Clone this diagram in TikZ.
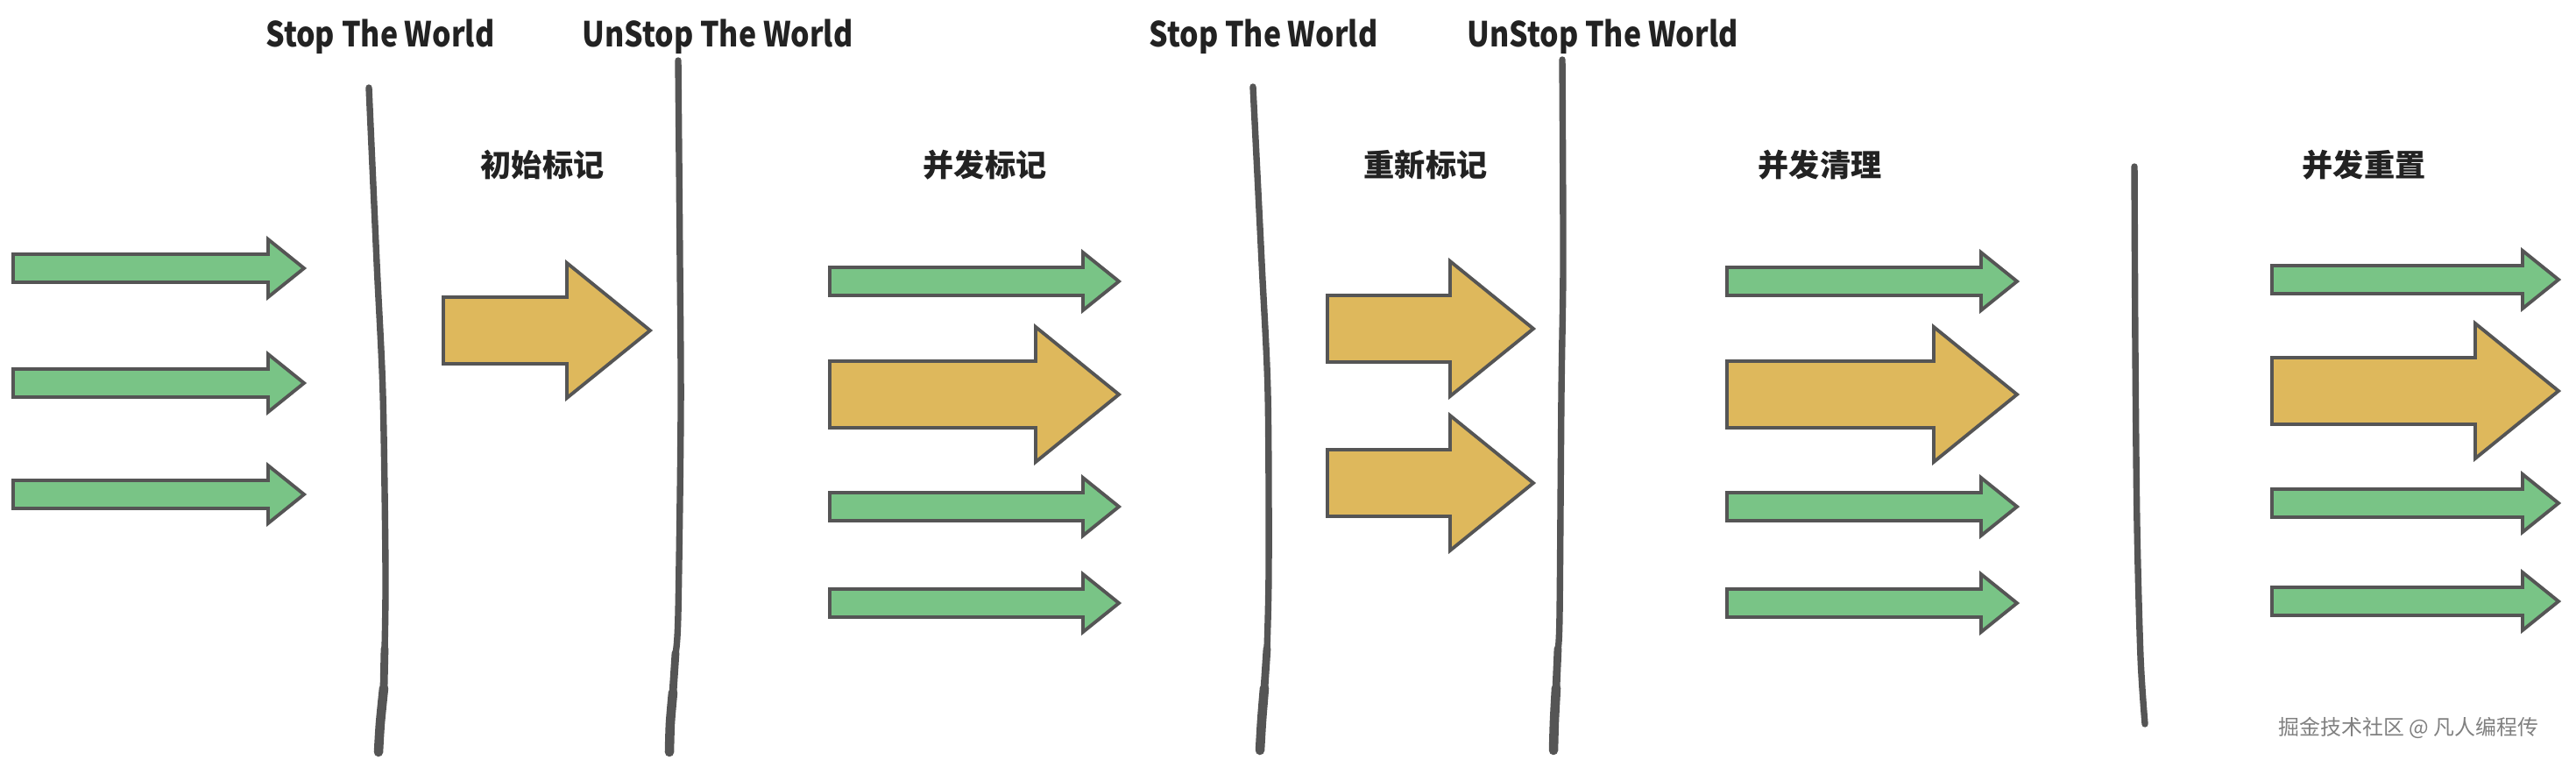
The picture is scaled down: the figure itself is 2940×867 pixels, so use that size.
\documentclass[tikz,border=0pt]{standalone}
\usepackage{fontspec}
\setmainfont{Noto Sans CJK SC}
\newfontfamily\headfont{Noto Sans CJK SC}[FakeStretch=0.86]
\usepackage{tikz}
\definecolor{arrowgreen}{HTML}{79C486}
\definecolor{arrowyellow}{HTML}{DEB85C}
\definecolor{edgegray}{HTML}{555555}
\definecolor{titlegray}{HTML}{222222}

% thin green arrow: left end, tip, centre line
\newcommand{\garrow}[3]{%
  \draw[greenarrow] (#1,#3-16) -- (#2-41,#3-16) -- (#2-41,#3-33) -- (#2,#3)
    -- (#2-41,#3+33) -- (#2-41,#3+16) -- (#1,#3+16) -- cycle;}
% fat yellow arrow: left end, tip, centre line
\newcommand{\yarrow}[3]{%
  \draw[yellowarrow] (#1,#3-38) -- (#2-95,#3-38) -- (#2-95,#3-77) -- (#2,#3)
    -- (#2-95,#3+77) -- (#2-95,#3+38) -- (#1,#3+38) -- cycle;}

\begin{document}
\begin{tikzpicture}[x=0.01cm,y=-0.01cm,
    greenarrow/.style={fill=arrowgreen,draw=edgegray,line width=1.1pt},
    yellowarrow/.style={fill=arrowyellow,draw=edgegray,line width=1.1pt},
    wall/.style={draw=edgegray,line width=2.1pt,line cap=round},
    wallmid/.style={draw=edgegray,line width=2.5pt,line cap=round},
    wallfoot/.style={draw=edgegray,line width=3pt,line cap=round},
    header/.style={anchor=base,text=titlegray,font=\headfont\bfseries\fontsize{11.2}{13}\selectfont},
    phase/.style={anchor=base,text=titlegray,font=\bfseries\fontsize{10}{12}\selectfont}]
	\useasboundingbox (0,0) rectangle (2940,867);

	% headers
	\node[header] (stop1)   at (434,54)  {Stop The World};
	\node[header] (unstop1) at (819,54)  {UnStop The World};
	\node[header] (stop2)   at (1442,54) {Stop The World};
	\node[header] (unstop2) at (1829,54) {UnStop The World};

	% phases
	\node[phase] (initmark)  at (619,202)  {初始标记};
	\node[phase] (concmark)  at (1124,202) {并发标记};
	\node[phase] (remark)    at (1627,202) {重新标记};
	\node[phase] (concsweep) at (2077,202) {并发清理};
	\node[phase] (concreset) at (2698,202) {并发重置};

	% walls
	\draw[wall] plot[smooth] coordinates {(421,100) (430,300) (437,450) (440,650) (439,740)};
	\draw[wallmid] plot[smooth] coordinates {(439,740) (438,785)};
	\draw[wallfoot] plot[smooth] coordinates {(438,785) (434,825) (432,858)};
	\draw[wall] plot[smooth] coordinates {(774,69) (776,300) (777,470) (774,700) (771,745)};
	\draw[wallmid] plot[smooth] coordinates {(771,745) (768,790)};
	\draw[wallfoot] plot[smooth] coordinates {(768,790) (765,825) (764,858)};
	\draw[wall] plot[smooth] coordinates {(1430,99) (1440,300) (1447,450) (1448,650) (1446,740)};
	\draw[wallmid] plot[smooth] coordinates {(1446,740) (1443,785)};
	\draw[wallfoot] plot[smooth] coordinates {(1443,785) (1440,822) (1438,856)};
	\draw[wall] plot[smooth] coordinates {(1783,68) (1784,300) (1782,450) (1780,700) (1778,740)};
	\draw[wallmid] plot[smooth] coordinates {(1778,740) (1776,785)};
	\draw[wallfoot] plot[smooth] coordinates {(1776,785) (1774,822) (1773,856)};
	\draw[wall] plot[smooth] coordinates {(2436,190) (2437,400) (2439,600) (2443,750) (2448,826)};

	% arrows
	\foreach \y in {306,437,564}
		\garrow{15}{347}{\y};
	\yarrow{506}{742}{377}
	\foreach \y in {321,578,688}
		\garrow{947}{1277}{\y};
	\yarrow{947}{1277}{450}
	\foreach \y in {375,551}
		\yarrow{1515}{1750}{\y};
	\foreach \y in {321,578,688}
		\garrow{1971}{2302}{\y};
	\yarrow{1971}{2302}{450}
	\foreach \y in {319,574,686}
		\garrow{2593}{2920}{\y};
	\yarrow{2593}{2920}{446}

	\node[text=black!50,font=\fontsize{6.8}{8}\selectfont] (mark) at (2749,830) {掘金技术社区 @ 凡人编程传};
\end{tikzpicture}
\end{document}
